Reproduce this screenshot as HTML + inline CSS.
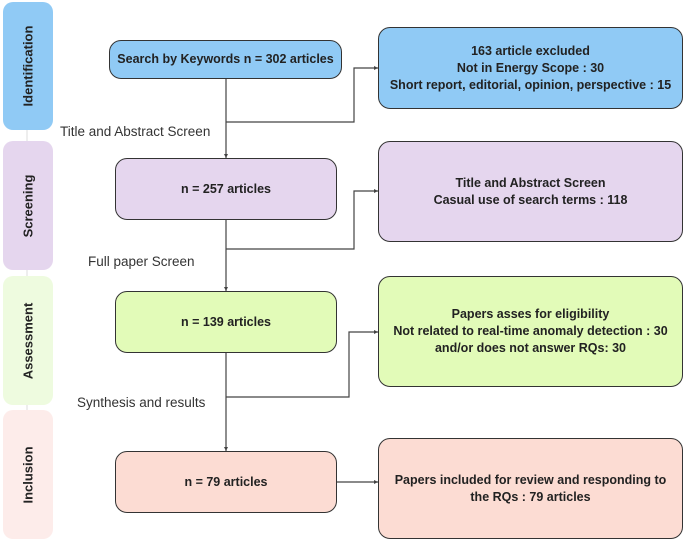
<!DOCTYPE html>
<html><head><style>
body{margin:0;width:685px;height:543px;background:#fff;position:relative;font-family:"Liberation Sans",sans-serif;overflow:hidden}
.b{position:absolute;box-sizing:border-box;border:1.3px solid #333;border-radius:12px;display:flex;align-items:center;justify-content:center;text-align:center;font-weight:bold;font-size:12.5px;color:#222;line-height:17px}
.t{position:absolute;box-sizing:border-box;border-radius:10px;left:3px;width:50px}
.t span{position:absolute;left:50%;top:50%;transform:translate(-50%,-50%) rotate(-90deg);font-weight:bold;font-size:13px;color:#222;white-space:nowrap}
.l{position:absolute;font-size:13.5px;color:#333}
</style></head><body>
<div class="t" style="top:2px;height:128px;background:#90caf5"><span>Identification</span></div>
<div class="t" style="top:141px;height:129px;background:#e5d6ee"><span>Screening</span></div>
<div class="t" style="top:276px;height:129px;background:#eefbdf"><span>Assessment</span></div>
<div class="t" style="top:410px;height:129px;background:#fdecea"><span>Inclusion</span></div>
<svg style="position:absolute;left:0;top:0" width="685" height="543">
<g stroke="#ddd" stroke-width="1"><line x1="27" y1="130" x2="27" y2="141"/><line x1="27" y1="270" x2="27" y2="276"/><line x1="27" y1="405" x2="27" y2="410"/></g>
<g stroke="#444" stroke-width="1.2" fill="none">
<path d="M226 79V158M226 122H354V68H378"/>
<path d="M226 220V291M226 249H354V191H378"/>
<path d="M226 353V451M226 397H349V332H378"/>
<path d="M336 482H378"/>
</g>
<g fill="#444"><path d="M378 68l-4-2v4z"/><path d="M378 191l-4-2v4z"/><path d="M378 332l-4-2v4z"/><path d="M378 482l-4-2v4z"/>
<path d="M226 158l-2-4h4z"/><path d="M226 291l-2-4h4z"/><path d="M226 451l-2-4h4z"/></g>
</svg>
<div class="b" style="left:109px;top:40px;width:233px;height:39px;background:#90caf5">Search by Keywords n = 302 articles</div>
<div class="b" style="left:115px;top:158px;width:222px;height:62px;background:#e5d6ee">n = 257 articles</div>
<div class="b" style="left:115px;top:291px;width:222px;height:62px;background:#e2fbb8">n = 139 articles</div>
<div class="b" style="left:115px;top:451px;width:222px;height:62px;background:#fcdcd3">n = 79 articles</div>
<div class="b" style="left:378px;top:27px;width:305px;height:82px;background:#90caf5">163 article excluded<br>Not in Energy Scope : 30<br>Short report, editorial, opinion, perspective : 15</div>
<div class="b" style="left:378px;top:141px;width:305px;height:101px;background:#e5d6ee">Title and Abstract Screen<br>Casual use of search terms : 118</div>
<div class="b" style="left:378px;top:276px;width:305px;height:111px;background:#e2fbb8">Papers asses for eligibility<br>Not related to real-time anomaly detection : 30<br>and/or does not answer RQs: 30</div>
<div class="b" style="left:378px;top:438px;width:305px;height:101px;background:#fcdcd3">Papers included for review and responding to<br>the RQs : 79 articles</div>
<div class="l" style="left:60px;top:124px">Title and Abstract Screen</div>
<div class="l" style="left:88px;top:254px">Full paper Screen</div>
<div class="l" style="left:77px;top:395px">Synthesis and results</div>
</body></html>
